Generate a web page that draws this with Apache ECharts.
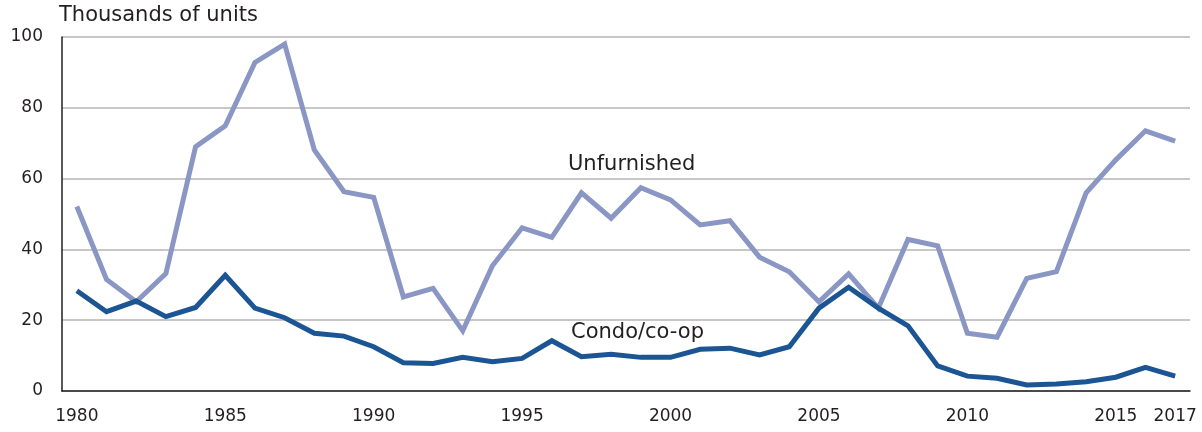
<!DOCTYPE html>
<html>
<head>
<meta charset="utf-8">
<script src="https://cdn.jsdelivr.net/npm/echarts@6/dist/echarts.min.js"></script>
<style>html,body{margin:0;padding:0;background:#fff;}#c{width:1202px;height:432px;}</style>
</head>
<body>
<div id="c"></div>
<script>
const years = [];
for (let y = 1980; y <= 2017; y++) years.push(String(y));
const unfurnished = [52.1,31.5,25.2,33.2,69.0,74.9,92.8,98.0,68.1,56.3,54.7,26.6,29.0,17.0,35.4,46.1,43.4,56.0,48.8,57.4,54.0,46.9,48.1,37.8,33.7,25.2,33.1,23.4,42.8,41.0,16.3,15.2,31.8,33.7,56.0,65.3,73.5,70.6];
const condo = [28.3,22.4,25.4,21.0,23.6,32.7,23.4,20.7,16.3,15.5,12.5,8.0,7.8,9.5,8.3,9.2,14.2,9.7,10.4,9.5,9.5,11.8,12.1,10.2,12.5,23.4,29.3,23.4,18.4,7.1,4.2,3.6,1.7,2.0,2.6,3.9,6.7,4.2];
const yTicks = [0,20,40,60,80,100];
const labelYears = ['1980','1985','1990','1995','2000','2005','2010','2015','2017'];

const FONT = 'DejaVu Sans';
const TXT = '#231f20';
const chart = echarts.init(document.getElementById('c'), null, {renderer:'canvas'});
chart.setOption({
  animation:false,
  textStyle:{fontFamily:FONT},
  grid:{left:62,right:12,top:37,bottom:41},
  xAxis:{
    type:'category', data:years, boundaryGap:true,
    axisLine:{lineStyle:{color:'#231f20',width:1.5}},
    axisTick:{inside:true,length:9,alignWithLabel:true,interval:0,lineStyle:{color:'#231f20',width:1.5}},
    axisLabel:{interval:(i,v)=>labelYears.includes(v),fontSize:17,color:TXT,margin:17,fontFamily:FONT},
    splitLine:{show:false}
  },
  yAxis:{
    type:'value', min:yTicks[0], max:yTicks[yTicks.length-1], interval:20,
    axisLine:{show:true,lineStyle:{color:'#231f20',width:1.5}},
    axisTick:{show:false},
    axisLabel:{fontSize:17,color:TXT,margin:19,fontFamily:FONT},
    splitLine:{lineStyle:{color:'#b5b5b5',width:1.5}}
  },
  series:[
    {name:'Unfurnished',type:'line',data:unfurnished,symbol:'none',lineStyle:{color:'#8a96c3',width:5,join:'miter'},z:2},
    {name:'Condo/co-op',type:'line',data:condo,symbol:'none',lineStyle:{color:'#1c5593',width:5,join:'miter'},z:3}
  ],
  graphic:[
    {type:'text',x:59,y:16,style:{text:'Thousands of units',fontSize:21,fill:TXT,fontFamily:FONT,verticalAlign:'middle'}},
    {type:'text',x:568,y:165,style:{text:'Unfurnished',fontSize:21,fill:TXT,fontFamily:FONT,verticalAlign:'middle'}},
    {type:'text',x:571,y:333,style:{text:'Condo/co-op',fontSize:21,fill:TXT,fontFamily:FONT,verticalAlign:'middle'}}
  ]
});
</script>
</body>
</html>
